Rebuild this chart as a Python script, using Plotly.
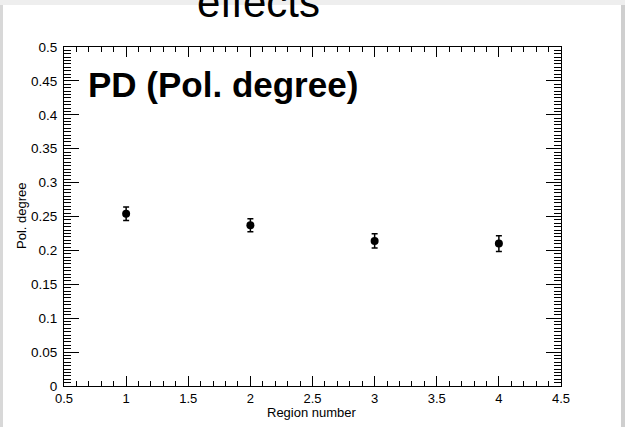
import plotly.graph_objects as go

regions = [1, 2, 3, 4]
pol_degree = [0.254, 0.237, 0.214, 0.210]
pol_err = [0.010, 0.0095, 0.0105, 0.0115]

W, H = 625, 427
L, R, T, B = 64, 64, 47, 41
pw, ph = W - L - R, H - T - B

def px(x):
    return (x - L) / pw

def py(y):
    return (H - B - y) / ph

fig = go.Figure()
fig.add_trace(go.Scatter(
    x=regions, y=pol_degree,
    mode="markers",
    marker=dict(color="black", size=8),
    error_y=dict(type="data", array=pol_err, color="black", thickness=1.5, width=3),
    showlegend=False,
))

font = "Liberation Sans, Arial, Helvetica, sans-serif"
axis_common = dict(
    showgrid=False, zeroline=False,
    showline=True, linecolor="black", linewidth=1,
    mirror="allticks", ticks="inside", tickcolor="black", tickwidth=1,
)

fig.update_xaxes(range=[0.5, 4.5], dtick=0.5, tick0=0.5, ticklen=10,
                 minor=dict(dtick=0.1, ticks="inside", ticklen=5, tickcolor="black"),
                 tickfont=dict(family=font, size=13, color="black"),
                 ticklabelstandoff=0, **axis_common)
fig.update_yaxes(range=[0, 0.5], dtick=0.05, tick0=0, ticklen=15,
                 minor=dict(dtick=0.005, ticks="inside", ticklen=7, tickcolor="black"),
                 tickfont=dict(family=font, size=13.5, color="black"),
                 ticklabelstandoff=3, **axis_common)

shapes = [
    dict(type="rect", xref="paper", yref="paper", x0=px(0), x1=px(W), y0=py(0), y1=py(H),
         fillcolor="#eeeeee", line=dict(width=0), layer="below"),
    dict(type="rect", xref="paper", yref="paper", x0=px(3), x1=px(621), y0=py(5), y1=py(H),
         fillcolor="white", line=dict(width=0), layer="below"),
    dict(type="rect", xref="paper", yref="paper", x0=px(0), x1=px(3), y0=py(5), y1=py(H),
         fillcolor="#d8d8d8", line=dict(width=0), layer="below"),
    dict(type="rect", xref="paper", yref="paper", x0=px(621), x1=px(W), y0=py(5), y1=py(H),
         fillcolor="#cfcfcf", line=dict(width=0), layer="below"),
]

annotations = [
    dict(text="effects", xref="paper", yref="paper", x=px(258), y=py(28),
         xanchor="center", yanchor="bottom", showarrow=False,
         font=dict(family=font, size=42, color="black")),
    dict(text="<b>PD (Pol. degree)</b>", xref="paper", yref="paper", x=px(86), y=py(84),
         xanchor="left", yanchor="middle", showarrow=False,
         font=dict(family=font, size=35, color="black")),
    dict(text="Pol. degree", xref="paper", yref="paper", x=px(21), y=py(216),
         xanchor="center", yanchor="middle", showarrow=False, textangle=-90,
         font=dict(family=font, size=13, color="black")),
    dict(text="Region number", xref="paper", yref="paper", x=px(312), y=py(413),
         xanchor="center", yanchor="middle", showarrow=False,
         font=dict(family=font, size=13, color="black")),
]

fig.update_layout(
    width=W, height=H,
    margin=dict(l=L, r=R, t=T, b=B),
    paper_bgcolor="white", plot_bgcolor="rgba(0,0,0,0)",
    shapes=shapes, annotations=annotations,
)

fig.write_html("out.html")
